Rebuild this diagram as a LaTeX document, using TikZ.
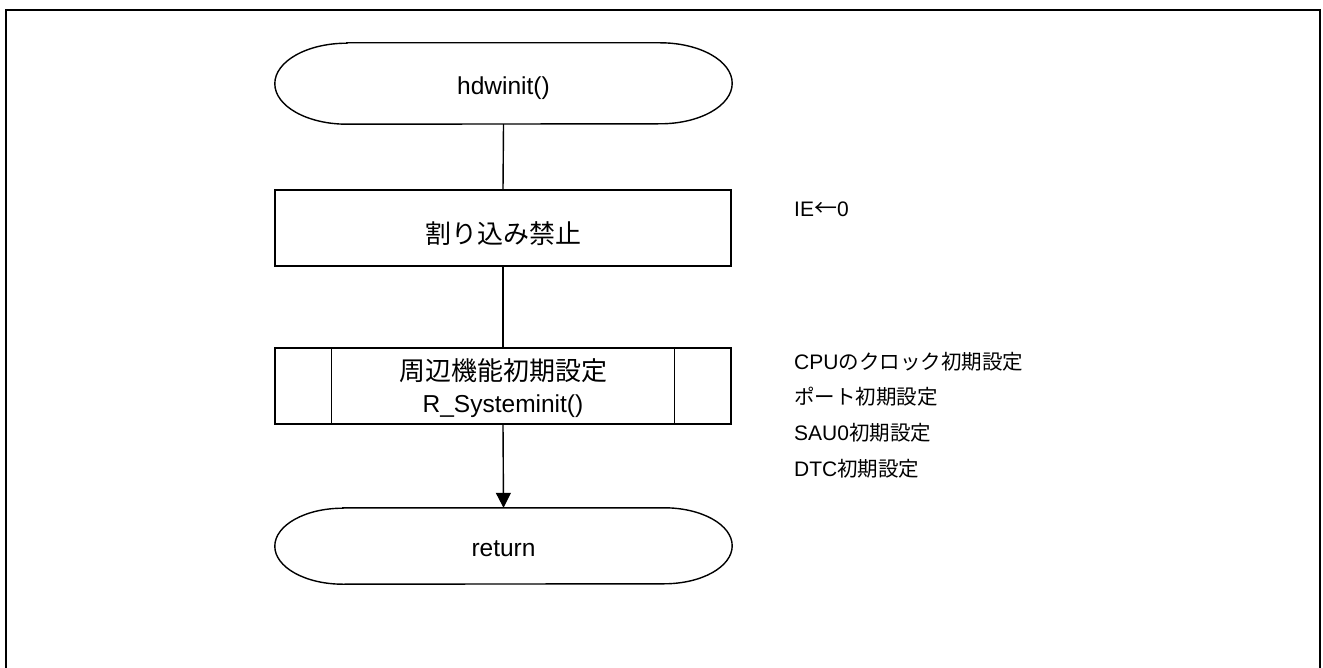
\documentclass[tikz,border=0pt]{standalone}
\usepackage{fontspec}
\setmainfont{Liberation Sans}
\newfontfamily\cjk{Noto Sans CJK JP}
\usetikzlibrary{arrows.meta}
\newcommand\jm[1]{{\cjk\fontsize{26}{32}\selectfont #1}}
\newcommand\js[1]{{\cjk\fontsize{20.5}{25}\selectfont #1}}
\newcommand\stadium[3]{% node name, horizontal radius, vertical radius
  \draw[flow] ([xshift=#2]#1.north west) -- ([xshift=-#2]#1.north east)
    arc[start angle=90,end angle=-90,x radius=#2,y radius=#3]
    -- ([xshift=#2]#1.south west)
    arc[start angle=270,end angle=90,x radius=#2,y radius=#3]
    -- cycle;}
\begin{document}
\begin{tikzpicture}[x=1pt,y=-1pt,
  flow/.style={line width=1.4pt},
  shapebox/.style={draw,flow,minimum width=456pt,minimum height=76pt,inner sep=0pt},
  term/.style={minimum width=457pt,inner sep=0pt,text height=21.6pt,text depth=0pt,
    font=\fontsize{24.5}{30}\selectfont},
  lbl/.style={inner sep=0pt,anchor=base,font=\fontsize{24.5}{30}\selectfont},
  note/.style={inner sep=0pt,anchor=base west,font=\fontsize{21}{25}\selectfont},
  arr/.style={flow,-{Triangle[length=15pt,width=15pt]}},
]
\useasboundingbox (0,0) rectangle (1323,668);
\draw[line width=2pt] (6,10) rectangle (1320,700);

% start terminal
\node[term,minimum height=81pt] (start) at (503.5,83.5) {hdwinit()};
\stadium{start}{72pt}{40.5pt}

% process
\node[shapebox,text height=32pt,text depth=0pt] (di) at (503,228) {\jm{割り込み禁止}};

% subroutine
\node[shapebox] (sub) at (503,386) {};
\draw[flow] ([xshift=57pt]sub.north west) -- ([xshift=57pt]sub.south west);
\draw[flow] ([xshift=-57pt]sub.north east) -- ([xshift=-57pt]sub.south east);
\node[lbl] (subA) at (503,381) {\jm{周辺機能初期設定}};
\node[lbl] (subB) at (503,412.7) {R\_Systeminit()};

% end terminal
\node[term,minimum height=76pt] (ret) at (503.5,546) {return};
\stadium{ret}{68pt}{38pt}

% connectors
\draw[flow] (start.south) -- (di.north);
\draw[flow] (di.south) -- (sub.north);
\draw[arr] (sub.south) -- (ret.north);

% notes
\node[note] (n0) at (794,216.7) {IE{\cjk\fontsize{23}{25}\selectfont ←}0};
\node[note] (n1) at (794,369.8) {CPU\js{のクロック初期設定}};
\node[note] (n2) at (794,404.8) {\js{ポート初期設定}};
\node[note] (n3) at (794,440.1) {SAU0\js{初期設定}};
\node[note] (n4) at (794,476) {DTC\js{初期設定}};
\end{tikzpicture}
\end{document}
